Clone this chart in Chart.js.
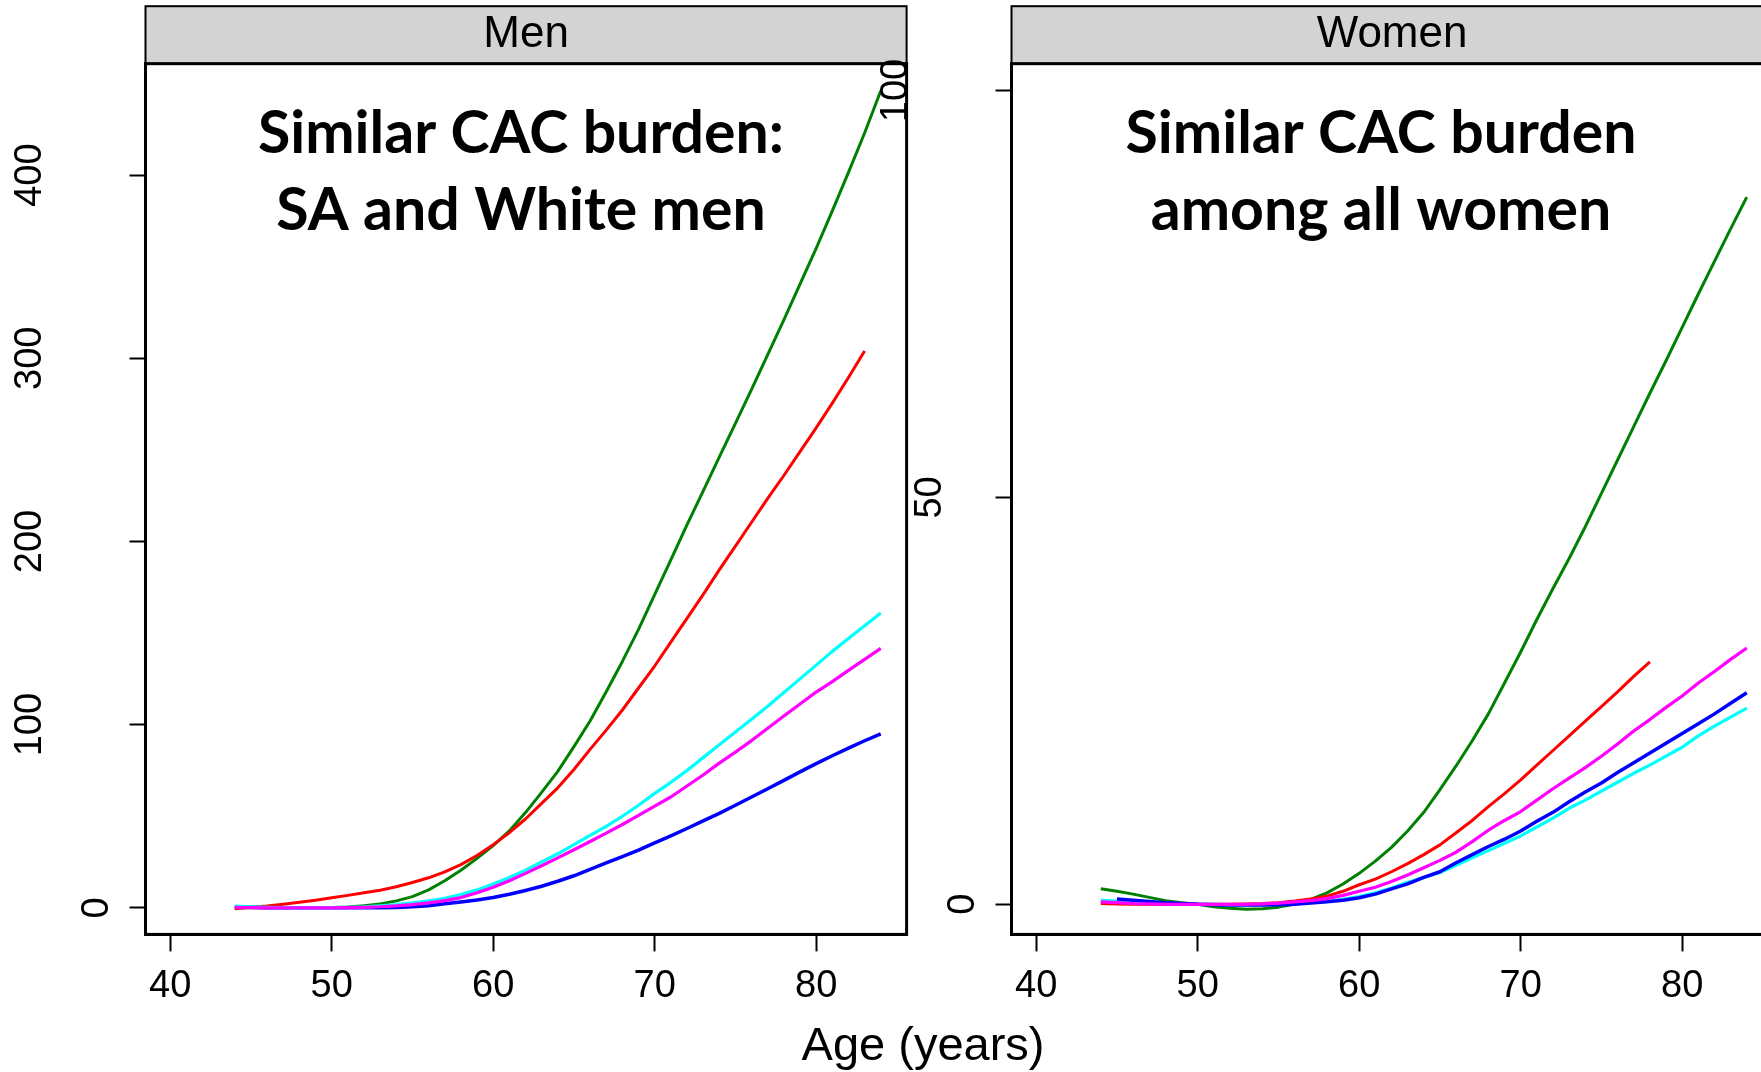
<!DOCTYPE html>
<html>
<head>
<meta charset="utf-8">
<script src="https://cdn.jsdelivr.net/npm/chart.js@4.4.1/dist/chart.umd.min.js"></script>
<style>
  html, body { margin: 0; padding: 0; background: #ffffff; overflow: hidden; }
  #wrap { position: relative; width: 1761px; height: 1072px; overflow: hidden; background: #ffffff; }
  canvas { position: absolute; left: 0; top: 0; }
</style>
</head>
<body>
<div id="wrap">
  <canvas id="men" width="1761" height="1072"></canvas>
  <canvas id="women" width="1800" height="1072"></canvas>
</div>
<script>
// ---------------- data ----------------
const ages = [44,45,46,47,48,49,50,51,52,53,54,55,56,57,58,59,60,61,62,63,64,
              65,66,67,68,69,70,71,72,73,74,75,76,77,78,79,80,81,82,83,84];

const xTicks = [40, 50, 60, 70, 80];
const menYTicks = [0, 100, 200, 300, 400];
const womenYTicks = [0, 50, 100];

const panelTitles = ["Men", "Women"];
const menNote = ["Similar CAC burden:", "SA and White men"];
const womenNote = ["Similar CAC burden", "among all women"];
const xAxisTitle = "Age (years)";

// Men (ages 44..84; red ends at 83)
const menGreen   = [0,0,0,0,0,0.1,0.2,0.5,1.1,2.1,3.8,6.1,9.8,14.8,20.5,27,34,42,52,63,74.5,
                    88,102,118,134.5,152,171,190,209,227.5,246,264.5,283,302,321,340.5,360,380.5,401.5,423,446];
const menRed     = [-0.5,0.3,1.0,2.0,3.0,4.2,5.5,6.8,8.2,9.6,11.5,13.8,16.4,19.6,23.6,28.6,34.5,41,48.5,57,65.5,
                    75.5,86.5,97,108,120,132,145,158,171,184.5,197.5,210.5,223.5,236,249,262,275.5,289.5,304];
const menCyan    = [1.0,0.6,0.3,0.1,0,0,0.1,0.3,0.6,1.1,1.8,2.7,3.8,5.2,7.2,9.8,13,16.6,20.6,25,29.5,
                    34.5,39.5,44.5,50,56,62.5,68.5,75,82,89,96,103,110,117.5,125,132.5,140,147,154,161];
const menMagenta = [0.3,0.1,0,0,0,0,0,0.1,0.3,0.6,1.1,1.8,2.7,3.9,5.6,8.2,11.2,14.8,18.8,23,27.3,
                    31.7,36.2,40.8,45.5,50.5,55.5,60.5,66.5,72.5,79,85,91.3,98,104.7,111.3,117.8,123.5,129.6,135.6,141.6];
const menBlue    = [0.5,0.3,0.1,0,0,0,0,0,0,0,0.2,0.6,1.2,2.2,3.2,4.3,5.6,7.4,9.5,11.8,14.5,
                    17.5,21,24.5,28,31.5,35.5,39.3,43.3,47.5,51.6,56,60.5,65,69.6,74.2,78.7,83,87.2,91.2,95];

// Women (ages 44..84; red ends at 78; blue starts at 45)
const womenGreen   = [1.9,1.6,1.25,0.85,0.45,0.2,0,-0.3,-0.5,-0.6,-0.55,-0.35,0,0.6,1.4,2.5,3.8,5.3,7.0,9.0,11.3,
                      14.1,17,20.1,23.4,27.2,31.0,35,38.8,42.5,46.4,50.5,54.6,58.7,62.8,66.8,70.9,75,79,83,86.9];
const womenRed     = [0.1,0.05,0,0,0,0,0,0,0,0.05,0.1,0.2,0.4,0.65,1.0,1.6,2.4,3.1,4.0,5.0,6.1,
                      7.3,8.8,10.3,12,13.6,15.3,17.1,18.9,20.7,22.5,24.3,26.1,28,29.8];
const womenCyan    = [0.5,0.4,0.3,0.2,0.1,0.05,0,0,-0.05,-0.05,0,0.03,0.1,0.2,0.35,0.6,0.95,1.4,2.0,2.7,3.3,
                      3.9,4.8,5.7,6.6,7.5,8.4,9.5,10.6,11.8,12.8,13.9,15.0,16.1,17.1,18.2,19.3,20.7,21.9,23.0,24.1];
const womenMagenta = [0.3,0.2,0.1,0.05,0,0,0,0,0,0,0.05,0.15,0.3,0.45,0.7,1.1,1.6,2.1,2.8,3.6,4.5,
                      5.4,6.4,7.7,9.1,10.3,11.4,12.8,14.2,15.5,16.8,18.2,19.7,21.3,22.7,24.2,25.6,27.2,28.6,30.1,31.5];
const womenBlue    = [null,0.65,0.5,0.35,0.2,0.1,0,-0.05,-0.1,-0.1,-0.1,-0.05,0,0.15,0.3,0.5,0.8,1.25,1.9,2.5,3.3,
                      4.0,5.1,6.1,7.1,8.0,9.0,10.2,11.3,12.6,13.8,14.9,16.2,17.4,18.6,19.8,21.0,22.2,23.4,24.7,26.0];

// ---------------- helpers ----------------
function pts(arr) {
  const out = [];
  arr.forEach((v, i) => { if (v !== null && v !== undefined) out.push({ x: ages[i], y: v }); });
  return out;
}
function ds(label, arr, color, width) {
  return { label, data: pts(arr), borderColor: color, backgroundColor: color,
           borderWidth: width, pointRadius: 0, tension: 0, fill: false,
           borderCapStyle: 'butt', borderJoinStyle: 'round' };
}

const TICK_FONT = '38px "Liberation Sans", Arial, sans-serif';

const panelPlugin = {
  id: 'panel',
  afterDraw(chart, args, opts) {
    const ctx = chart.ctx;
    const a = chart.chartArea;
    const xs = chart.scales.x, ys = chart.scales.y;
    ctx.save();
    // strip
    ctx.fillStyle = '#d3d3d3';
    ctx.fillRect(a.left, opts.stripTop, a.right - a.left, a.top - opts.stripTop);
    ctx.lineWidth = 2;
    ctx.strokeStyle = '#000';
    ctx.strokeRect(a.left, opts.stripTop, a.right - a.left, a.top - opts.stripTop);
    ctx.fillStyle = '#000';
    ctx.font = '44px "Liberation Sans", Arial, sans-serif';
    ctx.textAlign = 'center';
    ctx.textBaseline = 'alphabetic';
    ctx.fillText(opts.stripText, (a.left + a.right) / 2, 47);
    // frame
    ctx.lineWidth = 3;
    ctx.strokeRect(a.left, a.top, a.right - a.left, a.bottom - a.top);
    // x tick labels
    ctx.font = TICK_FONT;
    ctx.textAlign = 'center';
    ctx.textBaseline = 'middle';
    xs.ticks.forEach(t => {
      ctx.fillText(String(t.value), xs.getPixelForValue(t.value), a.bottom + 52);
    });
    // y tick labels (rotated, R/lattice-like placement)
    ys.ticks.forEach(t => {
      const s = String(t.value);
      const cx = a.left - 14 - 33.5 * s.length;
      const cy = ys.getPixelForValue(t.value);
      ctx.save();
      ctx.translate(cx, cy);
      ctx.rotate(-Math.PI / 2);
      ctx.textAlign = 'center';
      ctx.textBaseline = 'middle';
      ctx.fillText(s, 0, 0);
      ctx.restore();
    });
    // annotation
    ctx.font = 'bold 59px Lato, "Open Sans", sans-serif';
    ctx.textAlign = 'center';
    ctx.textBaseline = 'alphabetic';
    opts.note.forEach((line, i) => ctx.fillText(line, opts.noteX, opts.noteY[i]));
    // axis title
    if (opts.axisTitle) {
      ctx.font = '47px "Liberation Sans", Arial, sans-serif';
      ctx.fillText(opts.axisTitle, opts.axisTitleX, 1060);
    }
    ctx.restore();
  }
};

function makePanel(canvasId, cfg) {
  return new Chart(document.getElementById(canvasId), {
    type: 'line',
    data: { datasets: cfg.datasets },
    options: {
      responsive: false,
      animation: false,
      devicePixelRatio: 1,
      layout: { padding: { left: 0, right: cfg.padRight, top: 63.7, bottom: 0 } },
      plugins: {
        legend: { display: false },
        tooltip: { enabled: false },
        panel: cfg.panel
      },
      scales: {
        x: {
          type: 'linear', position: 'bottom', min: 38.47, max: 85.6,
          afterBuildTicks: s => { s.ticks = xTicks.map(v => ({ value: v })); },
          afterFit: s => { s.height = 137.6; },
          ticks: { display: false },
          grid: { drawOnChartArea: false, drawTicks: true, tickLength: 17, tickWidth: 2, tickColor: '#000' },
          border: { display: true, color: '#000', width: 3 }
        },
        y: {
          type: 'linear', position: 'left', min: cfg.yMin, max: cfg.yMax,
          afterBuildTicks: s => { s.ticks = cfg.yTicks.map(v => ({ value: v })); },
          afterFit: s => { s.width = cfg.yWidth; },
          ticks: { display: false },
          grid: { drawOnChartArea: false, drawTicks: true, tickLength: 16, tickWidth: 2, tickColor: '#000' },
          border: { display: true, color: '#000', width: 3 }
        }
      }
    },
    plugins: [panelPlugin]
  });
}

makePanel('men', {
  datasets: [
    ds('magenta', menMagenta, '#ff00ff', 3.2),
    ds('cyan', menCyan, '#00ffff', 3.2),
    ds('blue', menBlue, '#0000ff', 3.5),
    ds('red', menRed, '#ff0000', 3),
    ds('green', menGreen, '#008000', 3)
  ],
  padRight: 1761 - 906.6,
  yWidth: 145.5,
  yMin: -14.5, yMax: 460.8,
  yTicks: menYTicks,
  panel: { stripTop: 6.2, stripText: panelTitles[0], note: menNote, noteX: 521, noteY: [153, 230],
           axisTitle: xAxisTitle, axisTitleX: 923 }
});

makePanel('women', {
  datasets: [
    ds('magenta', womenMagenta, '#ff00ff', 3.2),
    ds('blue', womenBlue, '#0000ff', 3.5),
    ds('cyan', womenCyan, '#00ffff', 3.2),
    ds('red', womenRed, '#ff0000', 3),
    ds('green', womenGreen, '#008000', 3)
  ],
  padRight: 1800 - 1772.6,
  yWidth: 1011.5,
  yMin: -3.7, yMax: 103.3,
  yTicks: womenYTicks,
  panel: { stripTop: 6.2, stripText: panelTitles[1], note: womenNote, noteX: 1381, noteY: [153, 230],
           axisTitle: null }
});
</script>
</body>
</html>
